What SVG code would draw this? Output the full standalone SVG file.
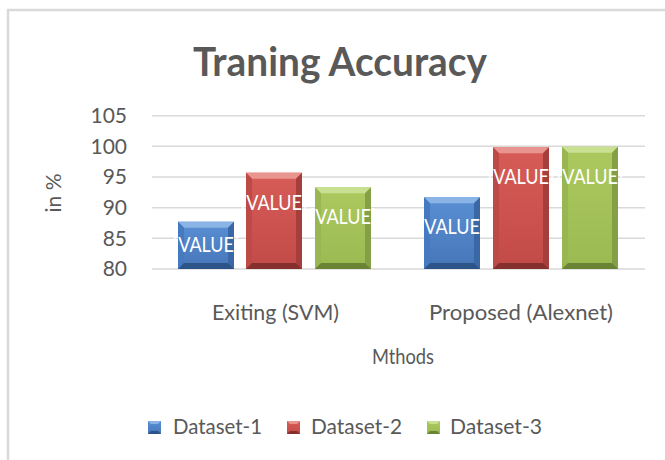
<svg xmlns="http://www.w3.org/2000/svg" width="665" height="460" viewBox="0 0 665 460">
<defs>
<style>
.t{font-family:Lato,"Liberation Sans",sans-serif;fill:#595959}
.tick{font-size:21px;text-anchor:end}
.cat{font-size:22px;text-anchor:middle}
.val{font-family:Lato,"Liberation Sans",sans-serif;font-size:22px;fill:#ffffff;text-anchor:middle}
.grid{stroke:#d9d9d9;stroke-width:1.5}
.bF{fill:url(#gB)}.bT{fill:#8ab3e6}.bL{fill:#467ac0}.bR{fill:#3a68a6}.bB{fill:#2c5488}
.rF{fill:url(#gR)}.rT{fill:#e8948f}.rL{fill:#bd4a47}.rR{fill:#a63e3c}.rB{fill:#85302e}
.gF{fill:url(#gG)}.gT{fill:#c9e092}.gL{fill:#98b752}.gR{fill:#849f45}.gB{fill:#6a8334}
</style>
<linearGradient id="gB" x1="0" y1="0" x2="0" y2="1"><stop offset="0" stop-color="#5a8fd4"/><stop offset="1" stop-color="#4676b8"/></linearGradient>
<linearGradient id="gR" x1="0" y1="0" x2="0" y2="1"><stop offset="0" stop-color="#d75c58"/><stop offset="1" stop-color="#c24a47"/></linearGradient>
<linearGradient id="gG" x1="0" y1="0" x2="0" y2="1"><stop offset="0" stop-color="#acc95e"/><stop offset="1" stop-color="#9aba52"/></linearGradient>
</defs>
<rect width="665" height="460" fill="#ffffff"/>
<path d="M8,460 V10 H665" fill="none" stroke="#d9d9d9" stroke-width="2.5"/>

<text id="title" class="t" x="340" y="76" font-size="40" font-weight="bold" text-anchor="middle" textLength="294" lengthAdjust="spacingAndGlyphs">Traning Accuracy</text>

<g id="grid">
<line class="grid" x1="152" y1="115.7" x2="645" y2="115.7"/>
<line class="grid" x1="152" y1="146.3" x2="645" y2="146.3"/>
<line class="grid" x1="152" y1="177" x2="645" y2="177"/>
<line class="grid" x1="152" y1="207.7" x2="645" y2="207.7"/>
<line class="grid" x1="152" y1="238.3" x2="645" y2="238.3"/>
<line class="grid" x1="152" y1="269" x2="645" y2="269"/>
</g>

<g id="yaxis" class="t tick">
<text x="127" y="123">105</text>
<text x="127" y="153.6">100</text>
<text x="127" y="184.3">95</text>
<text x="127" y="215">90</text>
<text x="127" y="245.6">85</text>
<text x="127" y="276.3">80</text>
</g>
<text id="ytitle" class="t" font-size="21" text-anchor="middle" transform="translate(61,193) rotate(-90)">in %</text>

<g id="bar-b1">
<rect class="bF" x="178" y="221.7" width="56" height="47.3"/>
<polygon class="bT" points="178,221.7 234,221.7 228,227.7 184,227.7"/>
<polygon class="bL" points="178,221.7 184,227.7 184,263 178,269"/>
<polygon class="bR" points="234,221.7 234,269 228,263 228,227.7"/>
<polygon class="bB" points="178,269 184,263 228,263 234,269"/>
</g>
<g id="bar-r1">
<rect class="rF" x="246" y="172.7" width="56" height="96.3"/>
<polygon class="rT" points="246,172.7 302,172.7 296,178.7 252,178.7"/>
<polygon class="rL" points="246,172.7 252,178.7 252,263 246,269"/>
<polygon class="rR" points="302,172.7 302,269 296,263 296,178.7"/>
<polygon class="rB" points="246,269 252,263 296,263 302,269"/>
</g>
<g id="bar-g1">
<rect class="gF" x="315" y="187.3" width="56" height="81.7"/>
<polygon class="gT" points="315,187.3 371,187.3 365,193.3 321,193.3"/>
<polygon class="gL" points="315,187.3 321,193.3 321,263 315,269"/>
<polygon class="gR" points="371,187.3 371,269 365,263 365,193.3"/>
<polygon class="gB" points="315,269 321,263 365,263 371,269"/>
</g>
<g id="bar-b2">
<rect class="bF" x="424" y="197.3" width="56" height="71.7"/>
<polygon class="bT" points="424,197.3 480,197.3 474,203.3 430,203.3"/>
<polygon class="bL" points="424,197.3 430,203.3 430,263 424,269"/>
<polygon class="bR" points="480,197.3 480,269 474,263 474,203.3"/>
<polygon class="bB" points="424,269 430,263 474,263 480,269"/>
</g>
<g id="bar-r2">
<rect class="rF" x="493" y="147.3" width="56" height="121.7"/>
<polygon class="rT" points="493,147.3 549,147.3 543,153.3 499,153.3"/>
<polygon class="rL" points="493,147.3 499,153.3 499,263 493,269"/>
<polygon class="rR" points="549,147.3 549,269 543,263 543,153.3"/>
<polygon class="rB" points="493,269 499,263 543,263 549,269"/>
</g>
<g id="bar-g2">
<rect class="gF" x="562" y="146.7" width="56" height="122.3"/>
<polygon class="gT" points="562,146.7 618,146.7 612,152.7 568,152.7"/>
<polygon class="gL" points="562,146.7 568,152.7 568,263 562,269"/>
<polygon class="gR" points="618,146.7 618,269 612,263 612,152.7"/>
<polygon class="gB" points="562,269 568,263 612,263 618,269"/>
</g>

<g id="values" class="val">
<text x="206" y="251.5" textLength="67" lengthAdjust="spacingAndGlyphs">[VALUE]</text>
<text x="274" y="210" textLength="67" lengthAdjust="spacingAndGlyphs">[VALUE]</text>
<text x="343" y="223.5" textLength="67" lengthAdjust="spacingAndGlyphs">[VALUE]</text>
<text x="452" y="233.5" textLength="67" lengthAdjust="spacingAndGlyphs">[VALUE]</text>
<text x="521" y="184" textLength="67" lengthAdjust="spacingAndGlyphs">[VALUE]</text>
<text x="590" y="184" textLength="67" lengthAdjust="spacingAndGlyphs">[VALUE]</text>
</g>

<g id="xaxis" class="t cat">
<text x="275.5" y="320" textLength="127" lengthAdjust="spacingAndGlyphs">Exiting (SVM)</text>
<text x="521" y="320" textLength="184" lengthAdjust="spacingAndGlyphs">Proposed (Alexnet)</text>
</g>
<text id="xtitle" class="t" x="403" y="364" font-size="22" text-anchor="middle" textLength="62" lengthAdjust="spacingAndGlyphs">Mthods</text>

<g id="legend">
<g id="leg1">
<rect class="bF" x="148" y="421" width="13" height="13"/>
<polygon class="bT" points="148,421 161,421 158,424 151,424"/>
<polygon class="bB" points="148,434 151,431 158,431 161,434"/>
<text class="t" x="173" y="434" font-size="21" textLength="89" lengthAdjust="spacingAndGlyphs">Dataset-1</text>
</g>
<g id="leg2">
<rect class="rF" x="287" y="421" width="13" height="13"/>
<polygon class="rT" points="287,421 300,421 297,424 290,424"/>
<polygon class="rB" points="287,434 290,431 297,431 300,434"/>
<text class="t" x="311" y="434" font-size="21" textLength="91" lengthAdjust="spacingAndGlyphs">Dataset-2</text>
</g>
<g id="leg3">
<rect class="gF" x="427" y="421" width="13" height="13"/>
<polygon class="gT" points="427,421 440,421 437,424 430,424"/>
<polygon class="gB" points="427,434 430,431 437,431 440,434"/>
<text class="t" x="450" y="434" font-size="21" textLength="92" lengthAdjust="spacingAndGlyphs">Dataset-3</text>
</g>
</g>
</svg>
